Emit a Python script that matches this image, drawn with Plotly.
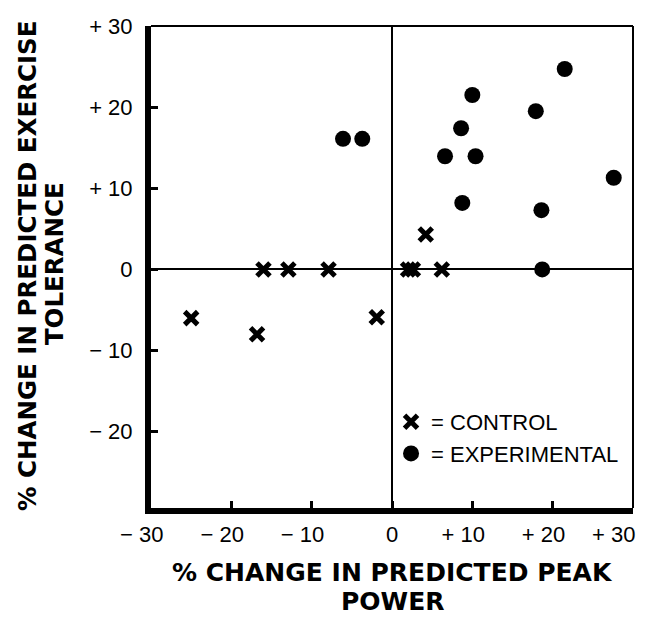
import plotly.graph_objects as go

# ---- data ----
control_x = [-25.0, -16.8, -16.0, -12.9, -7.9, -1.9, 2.0, 2.6, 4.2, 6.2]
control_y = [-6.0, -8.0, 0.0, 0.0, 0.0, -5.9, 0.0, 0.0, 4.3, 0.0]
exp_x = [-6.1, -3.7, 6.6, 8.6, 8.75, 10.0, 10.4, 17.9, 18.6, 18.7, 21.5, 27.6]
exp_y = [16.1, 16.1, 13.95, 17.4, 8.2, 21.5, 13.95, 19.5, 7.3, 0.0, 24.7, 11.3]

PAD = "\u00a0\u00a0\u00a0"  # balances the sign so the number sits on the tick
x_tickvals = [-30, -20, -10, 0, 10, 20, 30]
x_ticklabels = ["\u2212 30", "\u2212 20", "\u2212 10", "0", "+ 10", "+ 20", "+ 30"]
y_tickvals = [-20, -10, 0, 10, 20, 30]
y_ticktext = ["\u2212 20", "\u2212 10", "0", "+ 10", "+ 20", "+ 30"]

x_title_lines = ["% CHANGE IN PREDICTED PEAK", "POWER"]
y_title_lines = ["% CHANGE IN PREDICTED EXERCISE", "TOLERANCE"]

TICK_FONT = dict(family="Liberation Sans, Arial, sans-serif", size=22, color="black")
XTITLE_FONT = dict(family="DejaVu Sans, sans-serif", size=25, color="black", weight="bold")
YTITLE_FONT = dict(family="DejaVu Sans, sans-serif", size=24.5, color="black", weight="bold")

# the last x label sits against the right edge, so it is drawn right-aligned
x_ticktext = [t if t == "0" else t + PAD for t in x_ticklabels[:-1]] + [""]

fig = go.Figure()
fig.add_trace(go.Scatter(
    x=control_x, y=control_y, mode="markers", name="= CONTROL",
    marker=dict(symbol="x-thin", size=13, color="black",
                line=dict(width=5, color="black")),
))
fig.add_trace(go.Scatter(
    x=exp_x, y=exp_y, mode="markers", name="= EXPERIMENTAL",
    marker=dict(symbol="circle", size=16, color="black", line=dict(width=0)),
))

axis_common = dict(
    showgrid=False, zeroline=True, zerolinecolor="black", zerolinewidth=1.6,
    showline=True, linecolor="black", linewidth=6,
    ticks="inside", ticklen=7, tickwidth=3, tickcolor="black",
    tickfont=TICK_FONT, mirror=False, ticklabeloverflow="allow",
    automargin=False,
)
fig.update_xaxes(range=[-30, 30], tickmode="array", tickvals=x_tickvals,
                 ticktext=x_ticktext, ticklabelstandoff=2, **axis_common)
fig.update_yaxes(range=[-29.4, 30], tickmode="array", tickvals=y_tickvals,
                 ticktext=y_ticktext, ticklabelstandoff=8, **axis_common)

fig.add_annotation(text=x_ticklabels[-1], xref="x", yref="paper",
                   x=x_tickvals[-1], y=0, xanchor="right", yanchor="middle",
                   xshift=4, yshift=-26, showarrow=False, font=TICK_FONT)

# thin top / right frame
fig.add_shape(type="line", xref="paper", yref="paper", x0=0, x1=1, y0=1, y1=1,
              line=dict(color="black", width=2))
fig.add_shape(type="line", xref="paper", yref="paper", x0=1, x1=1, y0=0, y1=1,
              line=dict(color="black", width=2))

for txt, yy in zip(x_title_lines, [-0.1328, -0.1950]):
    fig.add_annotation(text=txt, xref="paper", yref="paper", x=0.5, y=yy,
                       xanchor="center", yanchor="middle", showarrow=False,
                       font=XTITLE_FONT)
for txt, xx, yy in zip(y_title_lines, [-0.2572, -0.2013], [0.502, 0.508]):
    fig.add_annotation(text=txt, xref="paper", yref="paper", x=xx, y=yy,
                       xanchor="center", yanchor="middle", showarrow=False,
                       textangle=-90, font=YTITLE_FONT)

fig.update_layout(
    width=641, height=610,
    margin=dict(l=143, r=16, t=18, b=110, autoexpand=False),
    paper_bgcolor="white", plot_bgcolor="white",
    showlegend=True,
    legend=dict(x=0.498, y=0.222, xanchor="left", yanchor="top",
                bgcolor="rgba(0,0,0,0)", itemwidth=30,
                font=dict(family="Liberation Sans, Arial, sans-serif", size=22, color="black")),
)

fig.write_html("out.html")
